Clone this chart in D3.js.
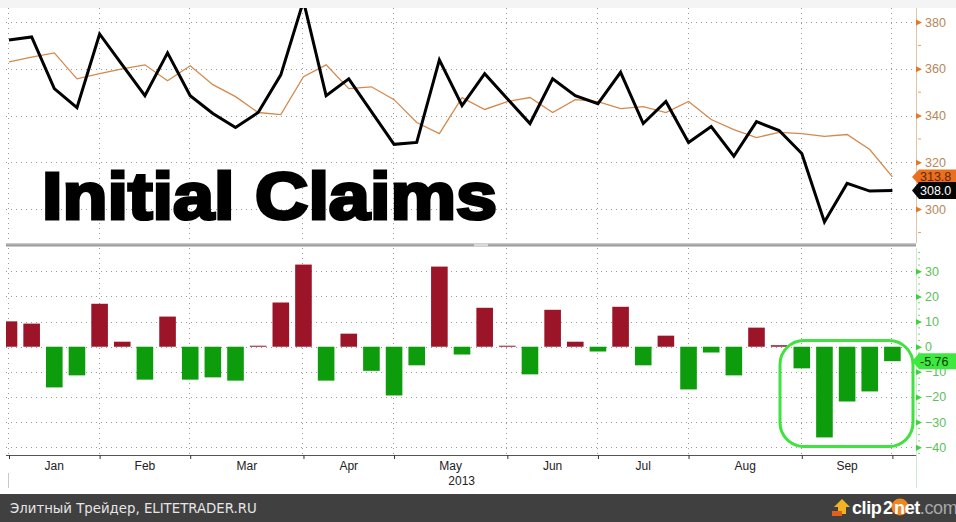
<!DOCTYPE html>
<html><head><meta charset="utf-8">
<script src="https://cdn.jsdelivr.net/npm/d3@7/dist/d3.min.js"></script>
<style>
html,body{margin:0;padding:0;background:#fff;}
svg{display:block;}
</style></head>
<body>
<svg id="c" width="956" height="522"></svg>
<script>
// ---- data ----
const weekIndex = d3.range(40);
const claims = [372.3,373.6,351.5,343.4,374.9,361.7,348.5,366.8,348.5,340.9,334.9,341.3,357.4,389,348.5,355.7,341.7,327.7,328.5,363.8,344.3,357.9,347.2,336.6,355.7,348.5,345.1,358.5,336.6,346,328.5,335.3,322.6,337.4,333.6,323.8,294.5,311,307.7,308.0];
const movingAvg = [363,365,366.8,355.7,357.9,360,361.7,354.9,361.3,353.2,348.1,341.3,340.4,356.6,361.7,351.5,352.3,346.8,337,332.3,347.7,342.6,346,347.7,341.3,346.8,346,343,343.8,341.3,346,338.3,334,330.6,332.8,332.3,331.1,331.9,325.5,313.76];
const diffBars = [10.1,9.2,-16.2,-11.4,17.1,2.0,-13.1,12.0,-13.1,-12.2,-13.5,0.4,17.6,32.7,-13.5,5.2,-9.6,-19.4,-7.4,31.9,-3.1,15.5,0.4,-11.0,14.7,2.0,-1.9,15.9,-7.4,4.4,-17.0,-2.3,-11.4,7.6,0.6,-8.6,-36.1,-21.8,-17.8,-5.76];
const monthStartIdx = [0,4,8,13,17,22,26,30,35,39];
const monthLabels = ["Jan","Feb","Mar","Apr","May","Jun","Jul","Aug","Sep"];
const yearLabel = "2013";
const topTicks = [300,320,340,360,380];
const topMinor = [290,310,330,350,370];
const botTicks = [30,20,10,0,-10,-20,-30,-40];
const titleText = "Initial Claims";
const lastClaimLabel = "308.0";
const lastAvgLabel = "313.8";
const lastDiffLabel = "-5.76";

// ---- layout ----
const svg = d3.select("#c");
const L = 6, R = 916;
const topY0 = 8, topY1 = 243;
const botY0 = 248, botY1 = 455;

const x = d3.scaleLinear().domain([0,39]).range([9,892.4]);
const yTop = d3.scaleLinear().domain([285.5,386]).range([topY1,topY0]);
const yBot = d3.scaleLinear().domain([-43.1,39.3]).range([botY1,botY0]);

// backgrounds
svg.append("rect").attr("x",0).attr("y",0).attr("width",956).attr("height",522).attr("fill","#fff");
svg.append("rect").attr("x",0).attr("y",0).attr("width",956).attr("height",topY0).attr("fill","#f4f4f4");

const defs = svg.append("defs");
defs.append("clipPath").attr("id","clipTop").append("rect")
  .attr("x",L).attr("y",topY0).attr("width",R-L).attr("height",topY1-topY0);
defs.append("clipPath").attr("id","clipBot").append("rect")
  .attr("x",L).attr("y",botY0).attr("width",R-L).attr("height",botY1-botY0);

const gridStyle = sel => sel.attr("stroke","#9a9a9a").attr("stroke-width",1).attr("stroke-dasharray","1,4");

// vertical grid both panels
[[topY0,topY1],[botY0,botY1]].forEach(([a,b])=>{
  svg.append("g").selectAll("line").data(monthStartIdx).join("line")
    .attr("x1",d=>Math.round(x(d))-0.5).attr("x2",d=>Math.round(x(d))-0.5)
    .attr("y1",a).attr("y2",b).call(gridStyle);
});
// horizontal grid
svg.append("g").selectAll("line").data(topTicks).join("line")
  .attr("x1",L).attr("x2",R).attr("y1",d=>Math.round(yTop(d))+0.5).attr("y2",d=>Math.round(yTop(d))+0.5).call(gridStyle);
svg.append("g").selectAll("line").data(botTicks).join("line")
  .attr("x1",L).attr("x2",R).attr("y1",d=>Math.round(yBot(d))+0.5).attr("y2",d=>Math.round(yBot(d))+0.5).call(gridStyle);

// title
svg.append("text").attr("x",42).attr("y",219)
  .attr("font-family","Liberation Sans, Arial, sans-serif").attr("font-weight","bold")
  .attr("font-size",66).attr("fill","#000").attr("stroke","#000").attr("stroke-width",3.2)
  .attr("stroke-linejoin","miter")
  .attr("textLength",455).attr("lengthAdjust","spacingAndGlyphs")
  .text(titleText);

// lines
const gTop = svg.append("g").attr("clip-path","url(#clipTop)");
gTop.append("path").datum(weekIndex)
  .attr("d",d3.line().x(i=>x(i)).y(i=>yTop(movingAvg[i])))
  .attr("fill","none").attr("stroke","#d4894c").attr("stroke-width",1.3);
gTop.append("path").datum(weekIndex)
  .attr("d",d3.line().x(i=>x(i)).y(i=>yTop(claims[i])))
  .attr("fill","none").attr("stroke","#000").attr("stroke-width",3).attr("stroke-linejoin","miter");

// separator
svg.append("rect").attr("x",L).attr("y",243.5).attr("width",R-L).attr("height",3).attr("fill","#9c9c9c");
svg.append("rect").attr("x",L).attr("y",243.5).attr("width",R-L).attr("height",1).attr("fill","#c4c4c4");
svg.append("rect").attr("x",474).attr("y",243.5).attr("width",14).attr("height",3).attr("fill","#d8d8d8");

// bars
const bw = 16.6;
const gBot = svg.append("g").attr("clip-path","url(#clipBot)");
gBot.selectAll("rect").data(weekIndex).join("rect")
  .attr("x",i=>x(i)-bw/2)
  .attr("width",bw)
  .attr("y",i=>yBot(Math.max(0,diffBars[i])))
  .attr("height",i=>Math.max(1,Math.abs(yBot(diffBars[i])-yBot(0))))
  .attr("fill",i=>diffBars[i]>=0?"#9c1428":"#0c9c0c");

// highlight box
svg.append("rect").attr("x",780).attr("y",340.5).attr("width",133).attr("height",106)
  .attr("rx",24).attr("ry",24).attr("fill","none").attr("stroke","#3fe23f").attr("stroke-width",3);

// right axes
svg.append("line").attr("x1",R+0.5).attr("x2",R+0.5).attr("y1",topY0).attr("y2",topY1).attr("stroke","#e3c4a2").attr("stroke-width",1);
svg.append("line").attr("x1",R+0.5).attr("x2",R+0.5).attr("y1",botY0).attr("y2",488).attr("stroke","#d2e8d2").attr("stroke-width",1);

const axTop = svg.append("g").attr("transform",`translate(${R},0)`)
  .call(d3.axisRight(yTop).tickValues(topTicks).tickSize(0).tickPadding(9));
axTop.select(".domain").remove();
axTop.selectAll("text").attr("font-family","Liberation Sans, Arial, sans-serif").attr("font-size",12.5).attr("fill","#b8865a");
axTop.selectAll(".tick").append("path").attr("d","M0,-3L6,0L0,3Z").attr("fill","#e07a2a");
svg.append("g").selectAll("line").data(topMinor).join("line")
  .attr("x1",R+2).attr("x2",R+5).attr("y1",d=>yTop(d)).attr("y2",d=>yTop(d)).attr("stroke","#e0a070");

const axBot = svg.append("g").attr("transform",`translate(${R},0)`)
  .call(d3.axisRight(yBot).tickValues(botTicks).tickSize(0).tickPadding(9).tickFormat(d3.format("d")));
axBot.select(".domain").remove();
axBot.selectAll("text").attr("font-family","Liberation Sans, Arial, sans-serif").attr("font-size",12.5).attr("fill","#5cc05c");
axBot.selectAll(".tick").append("path").attr("d","M0,-3L6,0L0,3Z").attr("fill","#3fd23f");
const botMinor = d3.range(-42.5,38,2.5).filter(v=>v%10!==0);
svg.append("g").selectAll("line").data(botMinor).join("line")
  .attr("x1",R+2).attr("x2",R+4).attr("y1",d=>yBot(d)).attr("y2",d=>yBot(d)).attr("stroke","#7ad87a");

// value tags
function tag(yc, h, fill, txtFill, label){
  const g = svg.append("g");
  g.append("path").attr("d",`M${R-4},${yc}L${R+3},${yc-h/2}L956,${yc-h/2}L956,${yc+h/2}L${R+3},${yc+h/2}Z`).attr("fill",fill);
  g.append("text").attr("x",R+4).attr("y",yc+4.5).attr("font-family","Liberation Sans, Arial, sans-serif")
    .attr("font-size",12.5).attr("fill",txtFill).text(label);
}
tag(yTop(movingAvg[39]), 15, "#ec6f1e", "#5a2a08", lastAvgLabel);
tag(yTop(claims[39]), 17, "#050505", "#ffffff", lastClaimLabel);
tag(yBot(diffBars[39]), 16, "#3ee83e", "#0a3a0a", lastDiffLabel);

// x axis
const axX = svg.append("g").attr("transform",`translate(0,${botY1})`)
  .call(d3.axisBottom(x).tickValues(monthStartIdx).tickFormat("").tickSize(4));
axX.select(".domain").attr("d",`M${L},0.5H${R}`).attr("stroke","#555");
axX.selectAll(".tick line").attr("stroke","#333");
svg.append("g").selectAll("text").data(monthLabels).join("text")
  .attr("x",(d,i)=>(x(monthStartIdx[i])+x(monthStartIdx[i+1]))/2)
  .attr("y",470).attr("text-anchor","middle")
  .attr("font-family","Liberation Sans, Arial, sans-serif").attr("font-size",12).attr("fill","#222").text(d=>d);
svg.append("text").attr("x",475).attr("y",485).attr("text-anchor","end")
  .attr("font-family","Liberation Sans, Arial, sans-serif").attr("font-size",12).attr("fill","#222").text(yearLabel);
svg.append("line").attr("x1",8.5).attr("x2",8.5).attr("y1",473).attr("y2",488).attr("stroke","#c8c8c8");

// footer
svg.append("rect").attr("x",0).attr("y",494).attr("width",956).attr("height",28).attr("fill","#404040");
svg.append("text").attr("x",10).attr("y",513).attr("font-family","DejaVu Sans, sans-serif").attr("font-size",13.3)
  .attr("fill","#e6e6e6").text("Элитный Трейдер, ELITETRADER.RU");
// clip2net logo
const lg = svg.append("g");
lg.append("path").attr("d","M842,499L850,507L846,507L846,514L838,514L838,507L834,507Z").attr("fill","#f2b323");
lg.append("rect").attr("x",832).attr("y",511).attr("width",10).attr("height",5).attr("fill","#e2601a");
lg.append("circle").attr("cx",900).attr("cy",507).attr("r",8.5).attr("fill","#f0861e");
const lt = lg.append("text").attr("x",852).attr("y",514).attr("font-family","Liberation Sans, Arial, sans-serif")
  .attr("font-weight","bold").attr("font-size",18).attr("letter-spacing",-0.4);
lt.append("tspan").attr("fill","#ffffff").text("clip");
lt.append("tspan").attr("fill","#ffffff").attr("dx",1.5).text("2");
lt.append("tspan").attr("fill","#ffffff").attr("dx",1.5).text("net");
lt.append("tspan").attr("fill","#a8a8a8").attr("font-weight","normal").text(".com");
</script>
</body></html>
